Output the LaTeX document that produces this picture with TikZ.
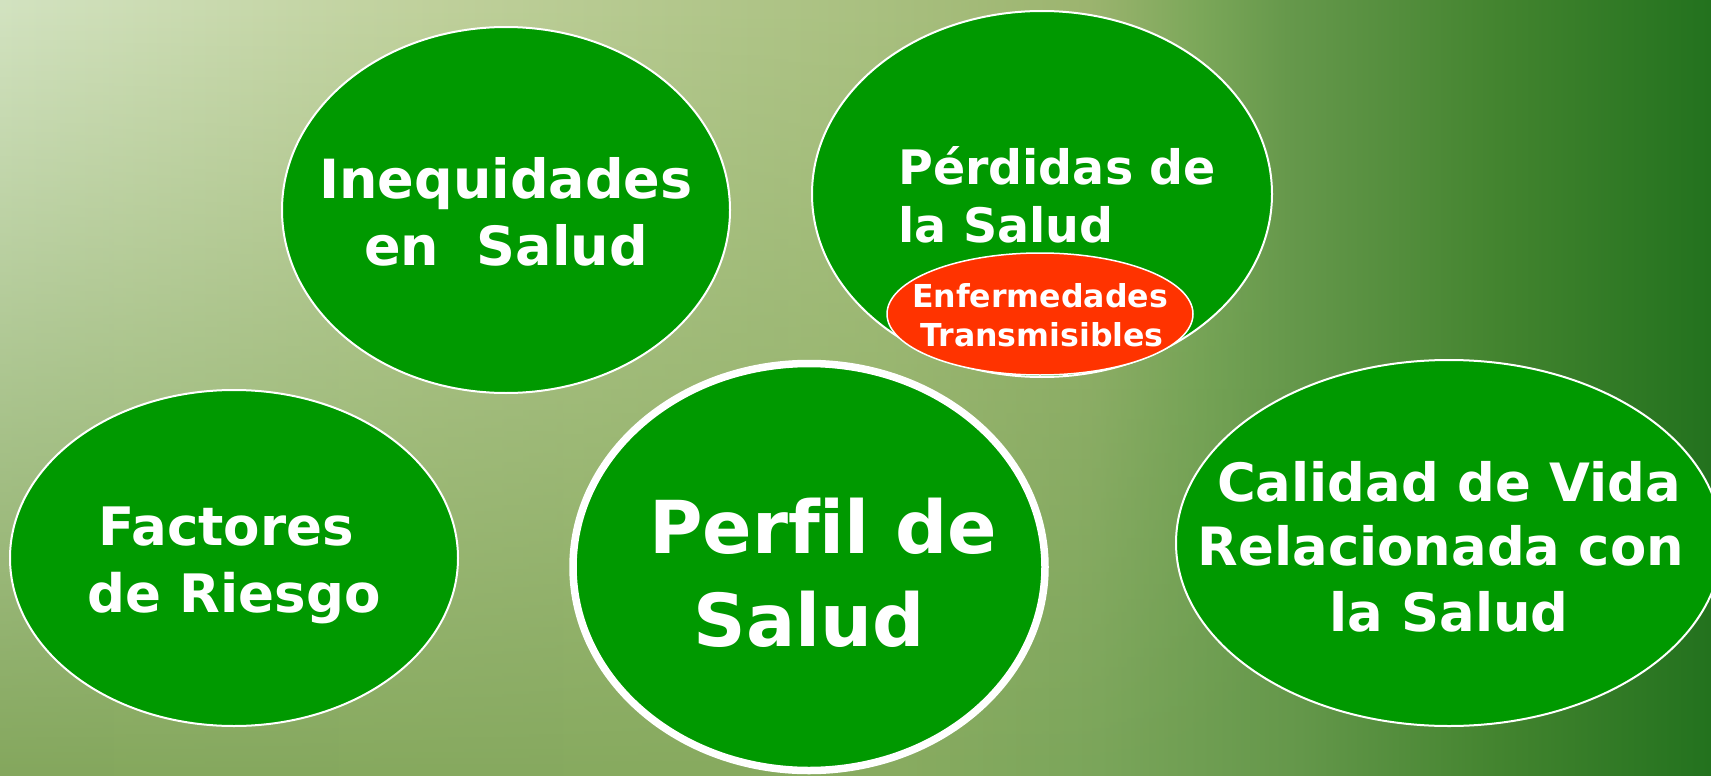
\documentclass[tikz,border=0pt]{standalone}
\usepackage{fontspec}
\setmainfont{DejaVu Sans}[Ligatures=NoCommon]
\usetikzlibrary{shapes.geometric,fadings}
\definecolor{nodegreen}{HTML}{009900}
\definecolor{redfill}{HTML}{FF3300}
\definecolor{bA}{HTML}{84A75D}
\definecolor{bB}{HTML}{88AB60}
\definecolor{bC}{HTML}{7AA55A}
\definecolor{bD}{HTML}{64974A}
\definecolor{bE}{HTML}{43842F}
\definecolor{bF}{HTML}{23721E}
\definecolor{tA}{HTML}{D3E3C1}
\definecolor{tB}{HTML}{C0D19C}
\definecolor{tC}{HTML}{AAC181}
\definecolor{tD}{HTML}{9DB570}
\definecolor{tE}{HTML}{7CA85A}
\pgfdeclarehorizontalshading{bgbase}{100bp}{color(0bp)=(bA); color(25bp)=(bA); color(51.3bp)=(bB); color(57.1bp)=(bC); color(63bp)=(bD); color(68.8bp)=(bE); color(75bp)=(bF); color(100bp)=(bF)}
\pgfdeclarehorizontalshading{bgtop}{100bp}{color(0bp)=(tA); color(25bp)=(tA); color(37.7bp)=(tB); color(50.4bp)=(tC); color(56.8bp)=(tD); color(60.1bp)=(tE); color(63bp)=(bD); color(68.8bp)=(bE); color(75bp)=(bF); color(100bp)=(bF)}
\tikzfading[name=topfade, top color=transparent!0, bottom color=transparent!100]
\tikzset{
  ellbox/.style={ellipse, draw=white, line width=2pt, fill=nodegreen, inner sep=0pt},
  lbl/.style={text=white, inner sep=0pt, anchor=base},
  fsI/.style={font=\bfseries\fontsize{54}{60}\selectfont},
  fsF/.style={font=\bfseries\fontsize{53}{60}\selectfont},
  fsP/.style={font=\bfseries\fontsize{47.5}{56}\selectfont},
  fsC/.style={font=\bfseries\fontsize{52.8}{60}\selectfont},
  fsBig/.style={font=\bfseries\fontsize{73}{85}\selectfont},
  fsE/.style={font=\bfseries\fontsize{31.6}{38}\selectfont}
}
\begin{document}
\begin{tikzpicture}[x=1pt,y=-1pt]
\useasboundingbox (0,0) rectangle (1711,776);
\shade[shading=bgbase] (0,0) rectangle (1711,776);
\shade[shading=bgtop, path fading=topfade] (0,0) rectangle (1711,776);

\node[ellbox, minimum width=448pt, minimum height=366pt] (ineq) at (506,210) {};
\node[ellbox, minimum width=460pt, minimum height=366pt] (perd) at (1042,194) {};
\node[ellbox, fill=redfill, line width=1.5pt, minimum width=306pt, minimum height=122pt] (enf) at (1040,314) {};
\node[ellbox, minimum width=448pt, minimum height=336pt] (fact) at (234,558) {};
\node[ellbox, line width=7.5pt, minimum width=472pt, minimum height=407pt] (perf) at (809,567) {};
\node[ellbox, minimum width=546pt, minimum height=366pt] (cal) at (1449,543) {};

\node[lbl, fsI] (ineq1) at (506,198) {Inequidades};
\node[lbl, fsI] (ineq2) at (506,265) {en\ \ Salud};
\node[lbl, fsP, anchor=base west] (perd1) at (898,184) {Pérdidas de};
\node[lbl, fsP, anchor=base west] (perd2) at (898,242) {la Salud};
\node[lbl, fsE] (enf1) at (1040,307) {Enfermedades};
\node[lbl, fsE] (enf2) at (1042,346) {Transmisibles};
\node[lbl, fsF] (fact1) at (226,545) {Factores};
\node[lbl, fsF] (fact2) at (234,612) {de Riesgo};
\node[lbl, fsBig] (perf1) at (823,553) {Perfil de};
\node[lbl, fsBig] (perf2) at (809,646) {Salud};
\node[lbl, fsC] (cal1) at (1449,501) {Calidad de Vida};
\node[lbl, fsC] (cal2) at (1441,565) {Relacionada con};
\node[lbl, fsC] (cal3) at (1449,631) {la Salud};
\end{tikzpicture}
\end{document}
